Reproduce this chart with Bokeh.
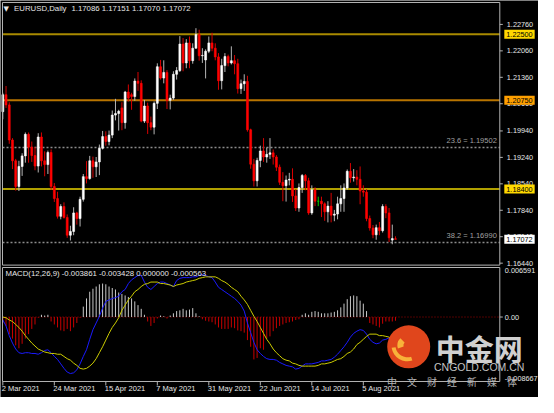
import numpy as np
from bokeh.plotting import figure
from bokeh.models import Range1d, Label
from bokeh.embed import file_html
from bokeh.resources import INLINE

# ---------------- data (EURUSD Daily, 2 Mar 2021 .. 19 Aug 2021) ----------------
opens = [1.2045, 1.2090, 1.2063, 1.1970, 1.1915, 1.1847, 1.1900, 1.1928, 1.1985, 1.1951,
         1.1929, 1.1901, 1.1978, 1.1915, 1.1905, 1.1937, 1.1847, 1.1815, 1.1768, 1.1794,
         1.1765, 1.1718, 1.1728, 1.1777, 1.1762, 1.1813, 1.1873, 1.1868, 1.1915, 1.1899,
         1.1912, 1.1948, 1.1979, 1.1966, 1.1983, 1.2036, 1.2040, 1.2055, 1.2016, 1.2097,
         1.2090, 1.2085, 1.2126, 1.2120, 1.2020, 1.2060, 1.2016, 1.2004, 1.2067, 1.2164,
         1.2134, 1.2149, 1.2075, 1.2081, 1.2144, 1.2154, 1.2224, 1.2174, 1.2227, 1.2180,
         1.2213, 1.2249, 1.2193, 1.2182, 1.2205, 1.2227, 1.2213, 1.2190, 1.2127, 1.2167,
         1.2191, 1.2174, 1.2180, 1.2172, 1.2106, 1.2119, 1.2125, 1.1997, 1.1906, 1.1862,
         1.1916, 1.1941, 1.1925, 1.1932, 1.1936, 1.1925, 1.1898, 1.1858, 1.1849, 1.1864,
         1.1866, 1.1822, 1.1790, 1.1844, 1.1876, 1.1862, 1.1777, 1.1838, 1.1808, 1.1808,
         1.1801, 1.1780, 1.1795, 1.1771, 1.1774, 1.1801, 1.1815, 1.1843, 1.1887, 1.1870,
         1.1872, 1.1866, 1.1835, 1.1832, 1.1762, 1.1737, 1.1719, 1.1738, 1.1730, 1.1794,
         1.1777, 1.1705, 1.17086]
highs = [1.2095, 1.2113, 1.2070, 1.1975, 1.1920, 1.1915, 1.1935, 1.1990, 1.1990, 1.1966,
         1.1952, 1.1988, 1.1990, 1.1940, 1.1942, 1.1945, 1.1856, 1.1833, 1.1800, 1.1805,
         1.1773, 1.1743, 1.1792, 1.1780, 1.1820, 1.1880, 1.1914, 1.1928, 1.1926, 1.1925,
         1.1958, 1.1994, 1.1993, 1.1995, 1.2048, 1.2079, 1.2050, 1.2070, 1.2100, 1.2117,
         1.2095, 1.2133, 1.2150, 1.2128, 1.2076, 1.2069, 1.2032, 1.2072, 1.2173, 1.2182,
         1.2181, 1.2155, 1.2090, 1.2152, 1.2163, 1.2245, 1.2240, 1.2237, 1.2244, 1.2226,
         1.2266, 1.2262, 1.2213, 1.2210, 1.2244, 1.2254, 1.2226, 1.2200, 1.2185, 1.2200,
         1.2196, 1.2218, 1.2195, 1.2185, 1.2130, 1.2144, 1.2140, 1.2000, 1.1920, 1.1923,
         1.1955, 1.1975, 1.1950, 1.1975, 1.1945, 1.1930, 1.1905, 1.1885, 1.1876, 1.1883,
         1.1895, 1.1840, 1.1855, 1.1880, 1.1880, 1.1870, 1.1850, 1.1845, 1.1820, 1.1820,
         1.1805, 1.1808, 1.1830, 1.1785, 1.1820, 1.1850, 1.1855, 1.1892, 1.1909, 1.1893,
         1.1890, 1.1900, 1.1850, 1.1840, 1.1770, 1.1745, 1.1746, 1.1753, 1.1800, 1.1800,
         1.1790, 1.1746, 1.17151]
lows = [1.2025, 1.2055, 1.1960, 1.1893, 1.1836, 1.1835, 1.1875, 1.1910, 1.1910, 1.1912,
        1.1890, 1.1884, 1.1900, 1.1874, 1.1880, 1.1838, 1.1806, 1.1762, 1.1760, 1.1762,
        1.1711, 1.1704, 1.1718, 1.1746, 1.1741, 1.1807, 1.1855, 1.1865, 1.1870, 1.1872,
        1.1877, 1.1945, 1.1955, 1.1956, 1.1975, 1.2022, 1.1995, 1.1996, 1.2000, 1.2072,
        1.2050, 1.2074, 1.2100, 1.2017, 1.2015, 1.1986, 1.1996, 1.1985, 1.2052, 1.2130,
        1.2120, 1.2052, 1.2051, 1.2076, 1.2130, 1.2150, 1.2152, 1.2160, 1.2160, 1.2172,
        1.2212, 1.2180, 1.2174, 1.2133, 1.2200, 1.2205, 1.2181, 1.2103, 1.2104, 1.2150,
        1.2165, 1.2170, 1.2144, 1.2093, 1.2092, 1.2100, 1.1992, 1.1894, 1.1847, 1.1847,
        1.1898, 1.1912, 1.1910, 1.1920, 1.1905, 1.1888, 1.1851, 1.1808, 1.1807, 1.1850,
        1.1806, 1.1782, 1.1780, 1.1830, 1.1837, 1.1772, 1.1772, 1.1795, 1.1795, 1.1766,
        1.1756, 1.1752, 1.1752, 1.1755, 1.1760, 1.1780, 1.1780, 1.1838, 1.1857, 1.1860,
        1.1850, 1.1800, 1.1820, 1.1755, 1.1730, 1.1710, 1.1706, 1.1718, 1.1725, 1.1763,
        1.1700, 1.1694, 1.17070]
closes = [1.2090, 1.2063, 1.1970, 1.1915, 1.1847, 1.1900, 1.1928, 1.1985, 1.1951, 1.1929,
          1.1901, 1.1978, 1.1915, 1.1905, 1.1937, 1.1847, 1.1815, 1.1768, 1.1794, 1.1765,
          1.1718, 1.1728, 1.1777, 1.1762, 1.1813, 1.1873, 1.1868, 1.1915, 1.1899, 1.1912,
          1.1948, 1.1979, 1.1966, 1.1983, 1.2036, 1.2040, 1.2046, 1.2016, 1.2097, 1.2081,
          1.2085, 1.2126, 1.2120, 1.2020, 1.2060, 1.2016, 1.2004, 1.2067, 1.2164, 1.2134,
          1.2149, 1.2075, 1.2081, 1.2144, 1.2154, 1.2224, 1.2174, 1.2227, 1.2180, 1.2213,
          1.2249, 1.2193, 1.2194, 1.2205, 1.2227, 1.2213, 1.2190, 1.2127, 1.2167, 1.2191,
          1.2174, 1.2180, 1.2172, 1.2106, 1.2119, 1.2125, 1.1997, 1.1906, 1.1862, 1.1916,
          1.1941, 1.1925, 1.1932, 1.1936, 1.1925, 1.1898, 1.1858, 1.1849, 1.1864, 1.1866,
          1.1822, 1.1790, 1.1844, 1.1876, 1.1862, 1.1777, 1.1838, 1.1808, 1.1808, 1.1801,
          1.1780, 1.1795, 1.1771, 1.1774, 1.1801, 1.1815, 1.1843, 1.1887, 1.1870, 1.1872,
          1.1866, 1.1835, 1.1832, 1.1762, 1.1737, 1.1719, 1.1738, 1.1730, 1.1794, 1.1777,
          1.1711, 1.1709, 1.17072]

macd_main = [-0.0004, -0.0012, -0.0025, -0.0035, -0.0043, -0.0048, -0.0049, -0.0048, -0.0048, -0.0049,
             -0.0049, -0.0050, -0.0048, -0.0045, -0.0044, -0.0048, -0.0053, -0.0057, -0.0063, -0.0069,
             -0.0074, -0.0076, -0.0075, -0.0071, -0.0063, -0.0053, -0.0044, -0.0030, -0.0017, -0.0008,
             0.0001, 0.0012, 0.0021, 0.0023, 0.0025, 0.0026, 0.0028, 0.0034, 0.0037, 0.0045,
             0.0050, 0.0053, 0.0056, 0.0056, 0.0047, 0.0040, 0.0037, 0.0041, 0.0045, 0.0047,
             0.0047, 0.0045, 0.0043, 0.0041, 0.0049, 0.0052, 0.0053, 0.0053, 0.0053, 0.0054,
             0.0054, 0.0056, 0.0057, 0.0056, 0.0054, 0.0053, 0.0047, 0.0040, 0.0037, 0.0034,
             0.0031, 0.0028, 0.0025, 0.0021, 0.0016, 0.0008, -0.0008, -0.0021, -0.0034, -0.0044,
             -0.0049, -0.0053, -0.0056, -0.0057, -0.0057, -0.0058, -0.0061, -0.0063, -0.0065, -0.0066,
             -0.0067, -0.0070, -0.0069, -0.0066, -0.0063, -0.0063, -0.0063, -0.0062, -0.0061, -0.0059,
             -0.0059, -0.0058, -0.0057, -0.0054, -0.0050, -0.0045, -0.0040, -0.0034, -0.0027, -0.0022,
             -0.0019, -0.0017, -0.0018, -0.0023, -0.0030, -0.0034, -0.0036, -0.0035, -0.0031, -0.0030,
             -0.0028, -0.0032, -0.0039]
macd_signal = [0.0000, -0.0001, -0.0004, -0.0006, -0.0010, -0.0014, -0.0019, -0.0025, -0.0030, -0.0035,
               -0.0039, -0.0043, -0.0045, -0.0047, -0.0048, -0.0049, -0.0049, -0.0050, -0.0050, -0.0053,
               -0.0056, -0.0058, -0.0062, -0.0065, -0.0069, -0.0070, -0.0069, -0.0066, -0.0062, -0.0056,
               -0.0048, -0.0040, -0.0031, -0.0022, -0.0014, -0.0008, -0.0001, 0.0009, 0.0016, 0.0023,
               0.0028, 0.0034, 0.0037, 0.0041, 0.0044, 0.0045, 0.0047, 0.0047, 0.0047, 0.0045,
               0.0045, 0.0044, 0.0043, 0.0041, 0.0043, 0.0044, 0.0045, 0.0047, 0.0048, 0.0049,
               0.0050, 0.0052, 0.0053, 0.0054, 0.0054, 0.0054, 0.0054, 0.0052, 0.0049, 0.0047,
               0.0044, 0.0040, 0.0037, 0.0034, 0.0028, 0.0023, 0.0017, 0.0009, 0.0001, -0.0006,
               -0.0014, -0.0022, -0.0030, -0.0036, -0.0043, -0.0048, -0.0052, -0.0056, -0.0058, -0.0059,
               -0.0062, -0.0063, -0.0065, -0.0066, -0.0066, -0.0066, -0.0066, -0.0066, -0.0065, -0.0063,
               -0.0063, -0.0062, -0.0061, -0.0059, -0.0057, -0.0056, -0.0053, -0.0049, -0.0047, -0.0043,
               -0.0037, -0.0034, -0.0030, -0.0026, -0.0023, -0.0023, -0.0023, -0.0025, -0.0025, -0.0026,
               -0.0027, -0.0030, -0.0034]
macd_hist = [-0.0008, -0.0012, -0.0023, -0.0029, -0.0038, -0.0042, -0.0036, -0.0029, -0.0023, -0.0016,
             -0.0010, -0.0001, 0.0003, 0.0002, 0.0003, -0.0006, -0.0010, -0.0014, -0.0018, -0.0019,
             -0.0016, -0.0019, -0.0014, -0.0008, -0.0001, 0.0014, 0.0025, 0.0034, 0.0038, 0.0041,
             0.0044, 0.0045, 0.0044, 0.0041, 0.0039, 0.0037, 0.0033, 0.0031, 0.0029, 0.0027,
             0.0025, 0.0021, 0.0016, 0.0011, 0.0003, -0.0006, -0.0012, -0.0008, -0.0002, 0.0002,
             0.0001, -0.0002, 0.0002, 0.0005, 0.0008, 0.0009, 0.0011, 0.0009, 0.0010, 0.0012,
             0.0005, 0.0001, -0.0003, -0.0005, -0.0006, -0.0007, -0.0010, -0.0014, -0.0016, -0.0016,
             -0.0016, -0.0014, -0.0015, -0.0018, -0.0019, -0.0021, -0.0031, -0.0040, -0.0057, -0.0055,
             -0.0042, -0.0044, -0.0029, -0.0026, -0.0019, -0.0015, -0.0012, -0.0010, -0.0008, -0.0007,
             -0.0006, -0.0004, -0.0003, 0.0003, 0.0005, 0.0003, 0.0007, 0.0008, 0.0007, 0.0005,
             0.0005, 0.0005, 0.0006, 0.0007, 0.0009, 0.0013, 0.0018, 0.0024, 0.0028, 0.0029,
             0.0028, 0.0022, 0.0018, 0.0008, -0.0008, -0.0010, -0.0012, -0.0014, -0.0009, -0.0006,
             -0.0006, -0.0006, -0.0005]

date_tick_index = [0, 16, 32, 48, 64, 80, 96, 112]
date_tick_labels = ["2 Mar 2021", "24 Mar 2021", "15 Apr 2021", "7 May 2021",
                    "31 May 2021", "22 Jun 2021", "14 Jul 2021", "5 Aug 2021"]
price_ticks = [1.22760, 1.22060, 1.21360, 1.20660, 1.19940, 1.19240,
               1.18540, 1.17840, 1.17140, 1.16440]
macd_tick_values = [0.006591, 0.0, -0.008667]
macd_tick_labels = ["0.006591", "0.00", "-0.008667"]
level_prices = [1.22500, 1.20750, 1.18400]
fib_names = ["23.6", "38.2"]
fib_prices = [1.19502, 1.16990]
header_symbol = "EURUSD,Daily"
header_ohlc = "1.17086 1.17151 1.17070 1.17072"
macd_header = "MACD(12,26,9) -0.003861 -0.003428 0.000000 -0.000563"
current_price = 1.17072

# ---------------- layout / styles ----------------
W, H = 538, 397
PXB = 3.2188                                   # pixels per bar
X0 = -0.721
X1 = X0 + W / PXB
PANEL_L, PANEL_R = -0.1, 154.4
PRICE_LO, PRICE_HI = 1.128836, 1.233932       # whole canvas in price units
MACD_LO, MACD_HI = -0.010818, 0.042549        # whole canvas in macd units
PRICE_TOP, PRICE_BOT = 1.233403, 1.16388      # main panel borders
MACD_TOP, MACD_BOT = 0.006656, -0.008667      # macd panel borders
MACD_PX = 0.00013443                          # macd units per pixel
FONT = "Liberation Sans"
AX_SIZE = "7.3px"
FRAME = "#b4b4b4"
TXT = "#e6e6e6"
BULL, BEAR, DOJI = "#ffffff", "#ff0000", "#00c800"
BULL_WICK, BEAR_WICK = "#b4b4b4", "#d80000"
level_colors = ["#a88a00", "#b87400", "#b0a000"]
level_boxes = ["#ffd800", "#ffa000", "#ffd800"]

p = figure(width=W, height=H, output_backend="svg", toolbar_location=None,
           x_range=Range1d(X0, X1), y_range=Range1d(PRICE_LO, PRICE_HI),
           x_axis_location=None, y_axis_location=None,
           min_border=0, background_fill_color="black", border_fill_color="black",
           outline_line_color=None)
p.grid.visible = False
p.extra_y_ranges = {"macd": Range1d(MACD_LO, MACD_HI)}

# ---------------- horizontal levels ----------------
for lvl, col in zip(level_prices, level_colors):
    p.segment(x0=[PANEL_L], x1=[PANEL_R], y0=[lvl], y1=[lvl], line_color=col, line_width=2)
for lvl in fib_prices:
    p.segment(x0=[PANEL_L], x1=[PANEL_R], y0=[lvl], y1=[lvl], line_color="#8c8c8c",
              line_width=1.5, line_dash="2 2")
p.segment(x0=[PANEL_L], x1=[PANEL_R], y0=[0.0], y1=[0.0], line_color="#a00000",
          line_width=1, line_dash="1 2", y_range_name="macd")

# ---------------- candles ----------------
o = np.array(opens); h = np.array(highs); l = np.array(lows); c = np.array(closes)
idx = np.arange(len(c))
body_col = np.where(c > o, BULL, np.where(c < o, BEAR, DOJI)).tolist()
wick_col = np.where(c > o, BULL_WICK, np.where(c < o, BEAR_WICK, DOJI)).tolist()
p.segment(x0=idx, y0=l, x1=idx, y1=h, line_color=wick_col, line_width=1)
p.vbar(x=idx, width=0.6, top=np.maximum(o, c), bottom=np.minimum(o, c),
       fill_color=body_col, line_color=body_col, line_width=0.6)

# ---------------- MACD ----------------
hv = np.array(macd_hist)
hist_col = np.where(hv >= 0, "#c8c8c8", "#c80000").tolist()
p.segment(x0=idx, y0=np.zeros(len(hv)), x1=idx, y1=hv, line_color=hist_col,
          line_width=1, y_range_name="macd")
p.line(idx, macd_main, line_color="#1a1aff", line_width=1, y_range_name="macd")
p.line(idx, macd_signal, line_color="#cccc00", line_width=1, y_range_name="macd")

# ---------------- panel frames, axes ----------------
p.quad(left=[PANEL_L], right=[PANEL_R], top=[PRICE_TOP], bottom=[PRICE_BOT],
       fill_color=None, line_color=FRAME, line_width=1)
p.quad(left=[PANEL_L], right=[PANEL_R], top=[MACD_TOP], bottom=[MACD_BOT],
       fill_color=None, line_color=FRAME, line_width=1, y_range_name="macd")
p.segment(x0=[PANEL_R] * len(price_ticks), x1=[PANEL_R + 3 / PXB] * len(price_ticks),
          y0=price_ticks, y1=price_ticks, line_color=FRAME, line_width=1)
p.segment(x0=[PANEL_R], x1=[PANEL_R + 3 / PXB], y0=[0.0], y1=[0.0],
          line_color=FRAME, line_width=1, y_range_name="macd")
p.segment(x0=date_tick_index, x1=date_tick_index, y0=[MACD_BOT] * len(date_tick_index),
          y1=[MACD_BOT - 4 * MACD_PX] * len(date_tick_index), line_color=FRAME,
          line_width=1, y_range_name="macd")

def lab(**kw):
    base = dict(text_font=FONT, text_font_size="8px", text_color=TXT)
    base.update(kw)
    p.add_layout(Label(**base))

for t in price_ticks:
    lab(x=PANEL_R, y=t, x_offset=7, text=f"{t:.5f}", text_baseline="middle",
        text_font_size=AX_SIZE)
for v, t, bl in zip(macd_tick_values, macd_tick_labels, ["top", "middle", "bottom"]):
    lab(x=PANEL_R, y=v, x_offset=5, y_range_name="macd", text=t, text_baseline=bl,
        text_font_size=AX_SIZE)
for i, t in zip(date_tick_index, date_tick_labels):
    lab(x=i, y=8.6, y_units="screen", text=t, text_align="left", text_baseline="middle",
        x_offset=-1, text_font_size="7.5px")

# level price boxes
for lvl, bg in zip(level_prices, level_boxes):
    lab(x=PANEL_R, y=lvl, x_offset=4.5, text=f"{lvl:.5f}", text_color="black",
        text_baseline="middle", background_fill_color=bg, padding=2, text_font_size=AX_SIZE)
lab(x=PANEL_R, y=current_price, x_offset=4.5, text=f"{current_price:.5f}",
    text_color="black", text_baseline="middle", background_fill_color="white", padding=2,
    text_font_size=AX_SIZE)

# headers
lab(x=5.8, y=388.3, x_units="screen", y_units="screen", text="\u25bc",
    text_font="DejaVu Sans", text_font_size="7px", text_align="center", text_baseline="middle")
lab(x=13.6, y=388.8, x_units="screen", y_units="screen", text=header_symbol,
    text_baseline="middle", text_font_size="7.8px")
lab(x=70.9, y=388.8, x_units="screen", y_units="screen", text=header_ohlc,
    text_baseline="middle", text_font_size="7.8px")
lab(x=4.9, y=124.0, x_units="screen", y_units="screen", text=macd_header,
    text_baseline="middle", text_font_size="7.8px")

for name, lvl in zip(fib_names, fib_prices):
    lab(x=PANEL_R, y=lvl, x_offset=-3, text=f"{name} = {lvl:.5f}", text_color="#a0a0a0",
        text_align="right", text_baseline="bottom", y_offset=2, text_font_size="7.5px")

# ---------------- watermark ----------------
LOGO_X, LOGO_Y = 126.1, -0.0040
p.scatter([LOGO_X], [LOGO_Y], size=43, fill_color="#e0461c", line_color=None,
          y_range_name="macd")
p.annular_wedge(x=[LOGO_X - 0.4], y=[LOGO_Y + 0.0002], inner_radius=4, outer_radius=10,
                inner_radius_units="screen", outer_radius_units="screen",
                start_angle=np.pi * 1.1, end_angle=np.pi * 0.75, direction="clock",
                fill_color="#f8b23a", line_color=None, y_range_name="macd")
p.annular_wedge(x=[LOGO_X - 0.4], y=[LOGO_Y + 0.0002], inner_radius=12, outer_radius=16,
                inner_radius_units="screen", outer_radius_units="screen",
                start_angle=np.pi * 1.05, end_angle=np.pi * 1.6, direction="anticlock",
                fill_color="#f8b23a", line_color=None, y_range_name="macd")
lab(x=478.7, y=50.0, x_units="screen", y_units="screen", text="中金网",
    text_font="Noto Sans CJK SC", text_font_size="29px", text_font_style="bold",
    text_color="#d0d0d0", text_align="center", text_baseline="middle")
lab(x=478.7, y=30.7, x_units="screen", y_units="screen", text="CNGOLD.COM.CN",
    text_font_size="10.5px", text_color="#c4c4c4", text_align="center", text_baseline="middle")
lab(x=451.6, y=16.5, x_units="screen", y_units="screen", text="中　文　财　经　新　媒　体",
    text_font="Noto Sans CJK SC", text_font_size="10px", text_color="#b4b4b4",
    text_align="center", text_baseline="middle")

open("out.html", "w").write(file_html(p, INLINE))
